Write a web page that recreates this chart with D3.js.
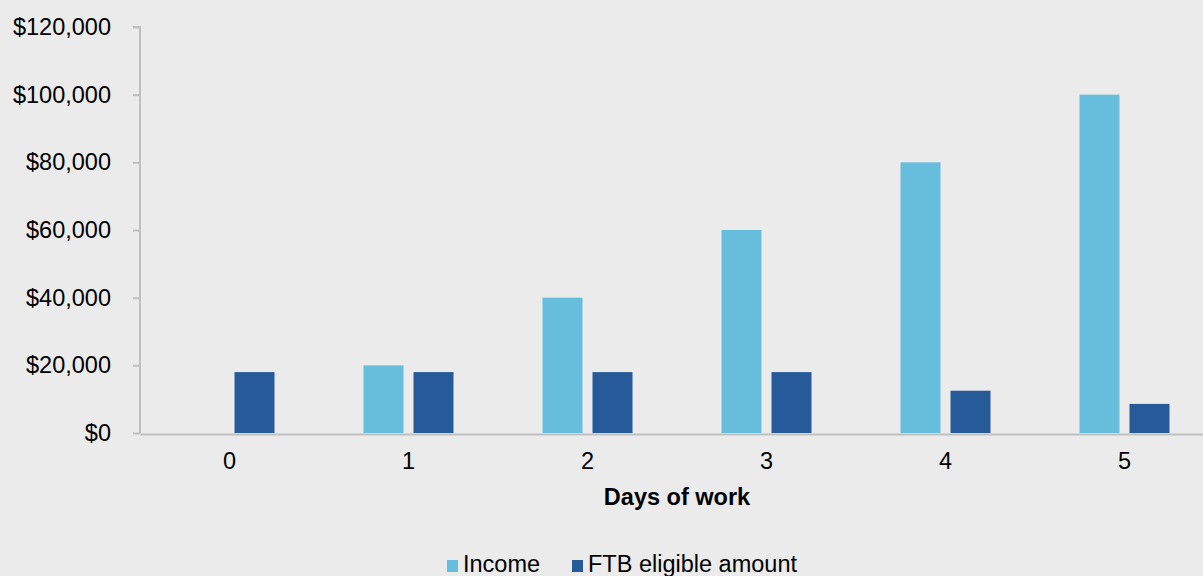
<!DOCTYPE html>
<html>
<head>
<meta charset="utf-8">
<script src="https://cdn.jsdelivr.net/npm/d3@7"></script>
<style>
  body { margin: 0; background: #ebebeb; }
  svg { display: block; font-family: "Liberation Sans", Arial, sans-serif; }
</style>
</head>
<body>
<svg width="1203" height="576"></svg>
<script>
const days = ['0', '1', '2', '3', '4', '5'];
const income = [0, 20000, 40000, 60000, 80000, 100000];
const ftbEligible = [18000, 18000, 18000, 18000, 12500, 8600];
const yTicks = [0, 20000, 40000, 60000, 80000, 100000, 120000];
const seriesNames = ['Income', 'FTB eligible amount'];
const colours = ['#67bddc', '#265a99'];

const svg = d3.select('svg');
svg.append('rect').attr('width', 1203).attr('height', 576).attr('fill', '#ebebeb');

const plotLeft = 140, plotRight = 1214, plotTop = 27, plotBottom = 433;
const fontSize = 23.5;

const x = d3.scaleBand().domain(days).range([plotLeft, plotRight]).paddingInner(0).paddingOuter(0);
const y = d3.scaleLinear().domain([0, 120000]).range([plotBottom, plotTop]);
// 40px bars with a 10px gap inside each day
const inner = d3.scaleBand().domain(seriesNames).range([0, x.bandwidth()]).paddingInner(0.2).paddingOuter(0.89);

// y axis
const yAxis = svg.append('g')
    .attr('transform', `translate(${plotLeft},0)`)
    .call(d3.axisLeft(y).tickValues(yTicks).tickSize(7).tickPadding(22)
        .tickFormat(d => '$' + d3.format(',')(d)));
yAxis.select('.domain').attr('stroke', '#bfbfbf').attr('stroke-width', 2).attr('d', `M-7,${plotTop}H0V${plotBottom}`);
yAxis.selectAll('.tick line').attr('stroke', '#bfbfbf').attr('stroke-width', 2);
yAxis.selectAll('.tick text').attr('font-size', fontSize).attr('fill', '#000')
    .attr('font-family', '"Liberation Sans", Arial, sans-serif');

// bars
const series = [income, ftbEligible];
series.forEach((vals, s) => {
    svg.append('g').selectAll('rect')
        .data(vals)
        .join('rect')
        .attr('x', (d, i) => x(days[i]) + inner(seriesNames[s]))
        .attr('y', d => y(d))
        .attr('width', inner.bandwidth())
        .attr('height', d => plotBottom - y(d))
        .attr('fill', colours[s]);
});

// x axis
const xAxis = svg.append('g')
    .attr('transform', `translate(0,${plotBottom + 1})`)
    .call(d3.axisBottom(x).tickSize(0).tickPadding(18));
xAxis.select('.domain').attr('stroke', '#bfbfbf').attr('stroke-width', 2);
xAxis.selectAll('.tick text').attr('font-size', fontSize).attr('fill', '#000')
    .attr('font-family', '"Liberation Sans", Arial, sans-serif');

svg.append('text')
    .attr('x', (plotLeft + plotRight) / 2)
    .attr('y', 505)
    .attr('text-anchor', 'middle')
    .attr('font-size', fontSize)
    .attr('font-weight', 'bold')
    .text('Days of work');

// legend
const legendX = [447, 572];
seriesNames.forEach((name, i) => {
    svg.append('rect').attr('x', legendX[i]).attr('y', 560).attr('width', 11).attr('height', 12).attr('fill', colours[i]);
    svg.append('text').attr('x', legendX[i] + 16).attr('y', 572).attr('font-size', fontSize).text(name);
});
</script>
</body>
</html>
